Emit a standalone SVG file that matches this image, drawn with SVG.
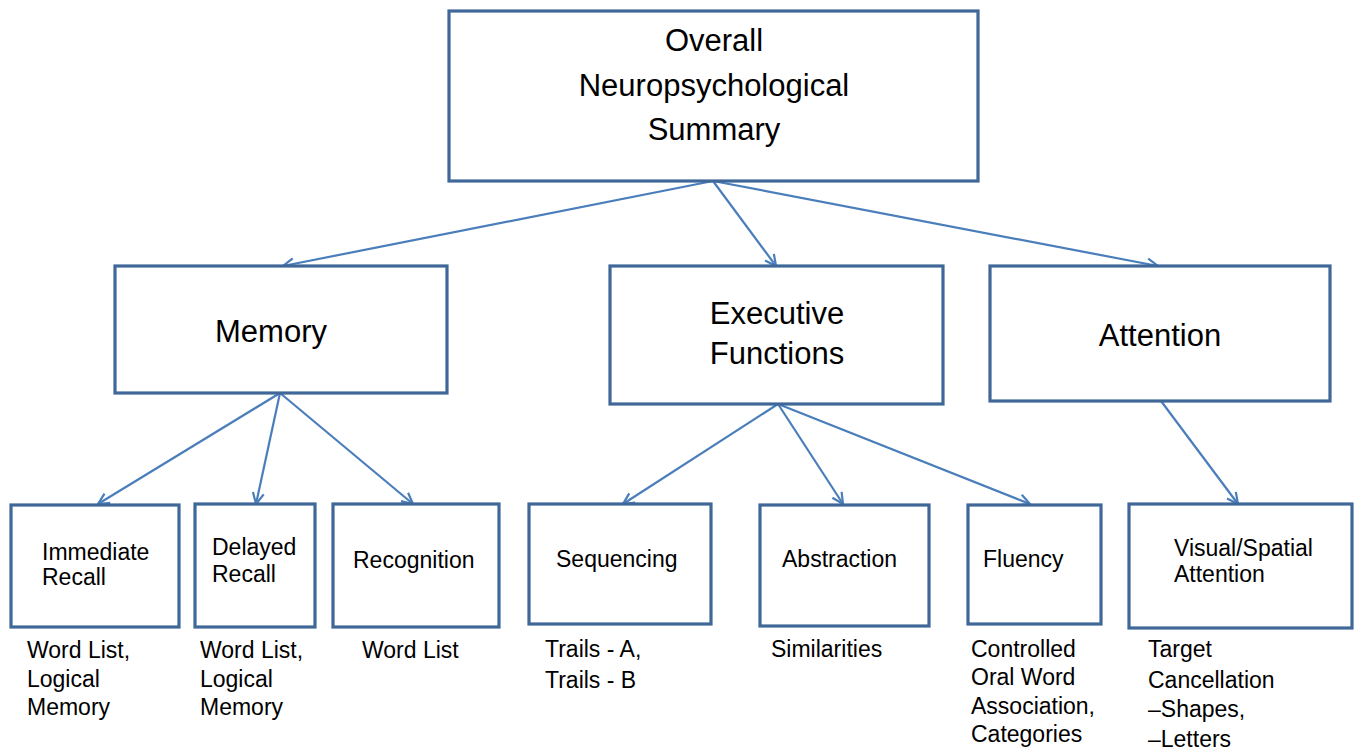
<svg xmlns="http://www.w3.org/2000/svg" width="1355" height="751" viewBox="0 0 1355 751">
<style>
.box{fill:#fff;stroke:#3F6899;stroke-width:3.2}
.con{fill:none;stroke:#4A7EBB;stroke-width:2.2}
text{font-family:"Liberation Sans",Arial,Helvetica,sans-serif;fill:#000}
.big{font-size:31px;text-anchor:middle}
.sm{font-size:23px}
</style>
<defs>
<marker id="ah" markerUnits="userSpaceOnUse" markerWidth="14" markerHeight="14" viewBox="0 0 14 14" refX="12" refY="7" orient="auto">
<path d="M1,1.5 L12,7 L1,12.5" fill="none" stroke="#4A7EBB" stroke-width="2.2"/>
</marker>
</defs>
<rect width="1355" height="751" fill="#fff"/>
<g id="connectors">
<line class="con" x1="713" y1="181" x2="283" y2="266" marker-end="url(#ah)"/>
<line class="con" x1="713" y1="181" x2="776" y2="266" marker-end="url(#ah)"/>
<line class="con" x1="713" y1="181" x2="1158" y2="266" marker-end="url(#ah)"/>
<line class="con" x1="280" y1="393" x2="98" y2="504" marker-end="url(#ah)"/>
<line class="con" x1="280" y1="393" x2="256" y2="504" marker-end="url(#ah)"/>
<line class="con" x1="280" y1="393" x2="413" y2="504" marker-end="url(#ah)"/>
<line class="con" x1="778" y1="404" x2="623" y2="504" marker-end="url(#ah)"/>
<line class="con" x1="778" y1="404" x2="843" y2="504" marker-end="url(#ah)"/>
<line class="con" x1="778" y1="404" x2="1030" y2="504" marker-end="url(#ah)"/>
<line class="con" x1="1161" y1="401" x2="1238" y2="504" marker-end="url(#ah)"/>
</g>
<g id="overall">
<rect class="box" x="449" y="11" width="529" height="170"/>
<text class="big" x="714" y="51">Overall</text>
<text class="big" x="714" y="96">Neuropsychological</text>
<text class="big" x="714" y="140">Summary</text>
</g>
<g id="memory">
<rect class="box" x="115" y="266" width="332" height="127"/>
<text class="big" x="271" y="342">Memory</text>
</g>
<g id="executive">
<rect class="box" x="610" y="266" width="333" height="138"/>
<text class="big" x="777" y="324">Executive</text>
<text class="big" x="777" y="364">Functions</text>
</g>
<g id="attention">
<rect class="box" x="990" y="266" width="340" height="135"/>
<text class="big" x="1160" y="346">Attention</text>
</g>
<g id="immediate">
<rect class="box" x="11" y="505" width="168" height="122"/>
<text class="sm" x="42" y="560">Immediate</text>
<text class="sm" x="42" y="585">Recall</text>
<text class="sm" x="27" y="658">Word List,</text>
<text class="sm" x="27" y="687">Logical</text>
<text class="sm" x="27" y="715">Memory</text>
</g>
<g id="delayed">
<rect class="box" x="195" y="504" width="120" height="123"/>
<text class="sm" x="212" y="555">Delayed</text>
<text class="sm" x="212" y="582">Recall</text>
<text class="sm" x="200" y="658">Word List,</text>
<text class="sm" x="200" y="687">Logical</text>
<text class="sm" x="200" y="715">Memory</text>
</g>
<g id="recognition">
<rect class="box" x="333" y="504" width="166" height="123"/>
<text class="sm" x="353" y="568">Recognition</text>
<text class="sm" x="362" y="658">Word List</text>
</g>
<g id="sequencing">
<rect class="box" x="529" y="504" width="182" height="120"/>
<text class="sm" x="556" y="567">Sequencing</text>
<text class="sm" x="545" y="657">Trails - A,</text>
<text class="sm" x="545" y="688">Trails - B</text>
</g>
<g id="abstraction">
<rect class="box" x="760" y="505" width="169" height="121"/>
<text class="sm" x="782" y="567">Abstraction</text>
<text class="sm" x="771" y="657">Similarities</text>
</g>
<g id="fluency">
<rect class="box" x="968" y="505" width="133" height="119"/>
<text class="sm" x="983" y="567">Fluency</text>
<text class="sm" x="971" y="657">Controlled</text>
<text class="sm" x="971" y="685">Oral Word</text>
<text class="sm" x="971" y="714">Association,</text>
<text class="sm" x="971" y="742">Categories</text>
</g>
<g id="visual">
<rect class="box" x="1129" y="504" width="223" height="124"/>
<text class="sm" x="1174" y="556">Visual/Spatial</text>
<text class="sm" x="1174" y="582">Attention</text>
<text class="sm" x="1148" y="657">Target</text>
<text class="sm" x="1148" y="688">Cancellation</text>
<text class="sm" x="1148" y="717">–Shapes,</text>
<text class="sm" x="1148" y="747">–Letters</text>
</g>
</svg>
